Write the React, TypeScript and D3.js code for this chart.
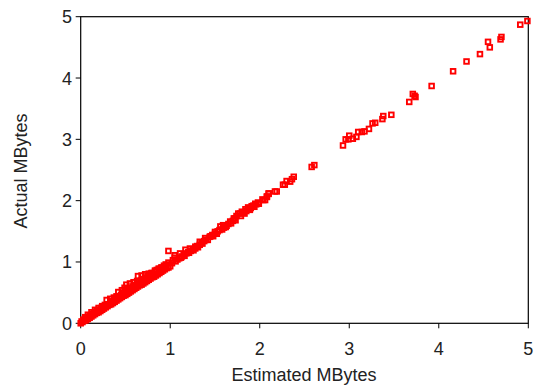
import React from "react";
import * as d3 from "d3";

const xTicks = [0, 1, 2, 3, 4, 5];
const yTicks = [0, 1, 2, 3, 4, 5];
const xLabel = "Estimated MBytes";
const yLabel = "Actual MBytes";

// lower part of the dense band
const lowerEst = [0.00, 0.02, 0.04, 0.06, 0.08, 0.10, 0.12, 0.14, 0.16, 0.18, 0.20, 0.22, 0.24, 0.26, 0.28, 0.30, 0.32, 0.34, 0.36, 0.38, 0.40, 0.42, 0.44, 0.46, 0.48, 0.50, 0.52, 0.54, 0.56, 0.58, 0.60, 0.62, 0.64, 0.66, 0.68, 0.70, 0.72, 0.74, 0.76, 0.78, 0.80, 0.82, 0.84, 0.86, 0.88, 0.90, 0.92, 0.94, 0.96, 0.98, 1.00];
const lowerAct = [0.00, 0.02, 0.04, 0.05, 0.07, 0.09, 0.11, 0.13, 0.15, 0.17, 0.18, 0.20, 0.22, 0.24, 0.26, 0.28, 0.30, 0.31, 0.33, 0.35, 0.37, 0.39, 0.41, 0.43, 0.45, 0.46, 0.48, 0.50, 0.52, 0.54, 0.56, 0.58, 0.60, 0.62, 0.63, 0.65, 0.67, 0.69, 0.71, 0.73, 0.75, 0.76, 0.78, 0.80, 0.82, 0.84, 0.86, 0.88, 0.90, 0.91, 0.93];

// middle of the dense band
const midEst = [0.03, 0.05, 0.08, 0.10, 0.13, 0.15, 0.18, 0.20, 0.23, 0.25, 0.28, 0.30, 0.33, 0.35, 0.38, 0.40, 0.43, 0.45, 0.48, 0.50, 0.53, 0.55, 0.58, 0.60, 0.63, 0.65, 0.68, 0.70, 0.73, 0.75, 0.78, 0.80, 0.83, 0.85, 0.88, 0.90, 0.93, 0.95, 0.98];
const midAct = [0.06, 0.08, 0.10, 0.12, 0.15, 0.17, 0.20, 0.22, 0.25, 0.27, 0.29, 0.31, 0.34, 0.36, 0.39, 0.41, 0.44, 0.46, 0.49, 0.52, 0.54, 0.57, 0.60, 0.62, 0.65, 0.67, 0.70, 0.72, 0.74, 0.77, 0.79, 0.82, 0.84, 0.87, 0.89, 0.91, 0.94, 0.96, 0.99];

// upper edge of the dense band
const upperEst = [0.01, 0.05, 0.08, 0.12, 0.16, 0.20, 0.24, 0.27, 0.29, 0.33, 0.37, 0.40, 0.42, 0.46, 0.49, 0.51, 0.55, 0.59, 0.63, 0.64, 0.68, 0.72, 0.76, 0.79, 0.83, 0.87, 0.91, 0.94];
const upperAct = [0.03, 0.10, 0.14, 0.18, 0.22, 0.25, 0.28, 0.30, 0.38, 0.40, 0.42, 0.44, 0.51, 0.54, 0.58, 0.63, 0.65, 0.67, 0.69, 0.77, 0.78, 0.80, 0.81, 0.82, 0.86, 0.89, 0.91, 0.93];

// 1 to 2.4 MBytes
const midRangeEst = [0.98, 1.03, 1.05, 1.05, 1.08, 1.10, 1.11, 1.13, 1.15, 1.17, 1.18, 1.20, 1.22, 1.23, 1.25, 1.28, 1.28, 1.30, 1.33, 1.33, 1.35, 1.38, 1.39, 1.40, 1.44, 1.45, 1.47, 1.50, 1.50, 1.53, 1.55, 1.56, 1.59, 1.60, 1.63, 1.65, 1.67, 1.70, 1.71, 1.72, 1.74, 1.76, 1.78, 1.80, 1.82, 1.84, 1.85, 1.87, 1.88, 1.90, 1.91, 1.93, 1.95, 1.96, 1.98, 2.03, 2.04, 2.06, 2.08, 2.08, 2.10, 2.10, 2.17, 2.19, 2.26, 2.28, 2.30, 2.34, 2.36, 2.38];
const midRangeAct = [1.18, 1.03, 1.07, 1.11, 1.04, 1.06, 1.14, 1.09, 1.12, 1.20, 1.14, 1.16, 1.22, 1.18, 1.20, 1.25, 1.22, 1.26, 1.33, 1.28, 1.31, 1.34, 1.39, 1.36, 1.41, 1.42, 1.44, 1.49, 1.46, 1.50, 1.52, 1.58, 1.60, 1.56, 1.59, 1.62, 1.66, 1.67, 1.71, 1.71, 1.75, 1.79, 1.79, 1.82, 1.80, 1.86, 1.83, 1.89, 1.86, 1.88, 1.91, 1.92, 1.95, 1.94, 1.97, 2.02, 2.01, 2.01, 2.06, 2.07, 2.11, 2.12, 2.15, 2.15, 2.26, 2.26, 2.32, 2.31, 2.35, 2.39];

// lower edge of the band between 1 and 2 MBytes
const lowRangeEst = [1.02, 1.06, 1.12, 1.16, 1.21, 1.26, 1.31, 1.36, 1.42, 1.48, 1.52, 1.58, 1.62, 1.68, 1.73, 1.79, 1.83, 1.89, 1.94, 1.99];
const lowRangeAct = [0.98, 1.01, 1.07, 1.10, 1.15, 1.19, 1.24, 1.30, 1.36, 1.42, 1.46, 1.53, 1.57, 1.63, 1.68, 1.75, 1.79, 1.85, 1.90, 1.95];

// sparse large files
const largeEst = [2.58, 2.61, 2.93, 2.96, 2.99, 3.00, 3.04, 3.08, 3.10, 3.14, 3.17, 3.22, 3.26, 3.29, 3.37, 3.38, 3.47, 3.67, 3.71, 3.73, 3.74, 3.92, 4.16, 4.31, 4.46, 4.55, 4.57, 4.69, 4.70, 4.91, 4.99];
const largeAct = [2.55, 2.58, 2.90, 3.00, 3.00, 3.06, 3.01, 3.04, 3.12, 3.12, 3.13, 3.17, 3.26, 3.27, 3.33, 3.38, 3.40, 3.61, 3.74, 3.71, 3.69, 3.87, 4.11, 4.27, 4.39, 4.59, 4.50, 4.63, 4.67, 4.87, 4.93];

const estimated = [...lowerEst, ...midEst, ...upperEst, ...midRangeEst, ...lowRangeEst, ...largeEst];
const actual = [...lowerAct, ...midAct, ...upperAct, ...midRangeAct, ...lowRangeAct, ...largeAct];

const W = 541;
const H = 390;
const left = 80.7;
const right = 528.3;
const top = 16.7;
const bottom = 323.3;
const font = "'Liberation Sans', Arial, Helvetica, sans-serif";

export default function App() {
  const x = d3.scaleLinear().domain([0, 5]).range([left, right]);
  const y = d3.scaleLinear().domain([0, 5]).range([bottom, top]);
  const s = 4.6;
  return (
    <svg
      width={W}
      height={H}
      style={{ position: "absolute", left: 0, top: 0, background: "#fff" }}
      fontFamily={font}
    >
      <rect x={0} y={0} width={W} height={H} fill="#fff" />
      {/* frame */}
      <rect
        x={left}
        y={top}
        width={right - left}
        height={bottom - top}
        fill="none"
        stroke="#000"
        strokeWidth={1.2}
      />
      {xTicks.map((t) => (
        <g key={"x" + t}>
          <line x1={x(t)} x2={x(t)} y1={bottom} y2={bottom + 5} stroke="#000" strokeWidth={1} />
          <text x={x(t)} y={355} fontSize={18} textAnchor="middle" fill="#222">
            {t}
          </text>
        </g>
      ))}
      {yTicks.map((t) => (
        <g key={"y" + t}>
          <line x1={left - 5} x2={left} y1={y(t)} y2={y(t)} stroke="#000" strokeWidth={1} />
          <text x={72} y={y(t) + 6.5} fontSize={18} textAnchor="end" fill="#222">
            {t}
          </text>
        </g>
      ))}
      <text x={304} y={381} fontSize={18} textAnchor="middle" fill="#222">
        {xLabel}
      </text>
      <text
        transform={`translate(27,171) rotate(-90)`}
        fontSize={18}
        textAnchor="middle"
        fill="#222"
      >
        {yLabel}
      </text>
      {estimated.map((e, i) => (
        <rect
          key={i}
          x={x(e) - s / 2}
          y={y(actual[i]) - s / 2}
          width={s}
          height={s}
          fill="none"
          stroke="#ff0000"
          strokeWidth={1.9}
        />
      ))}
    </svg>
  );
}
